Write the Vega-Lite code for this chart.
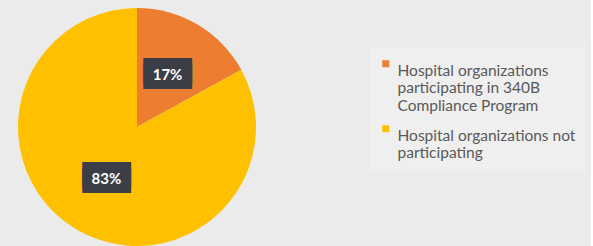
{
  "$schema": "https://vega.github.io/schema/vega-lite/v6.json",
  "width": 274,
  "height": 254,
  "padding": {"left": 0, "top": 0, "right": 6, "bottom": 0},
  "autosize": {"type": "pad"},
  "background": "#ebebeb",
  "config": {"view": {"stroke": null}},
  "data": {"values": [
    {"category": "Hospital organizations participating in 340B Compliance Program", "pct": 17, "label": "17%", "rank": 1, "box": "███"},
    {"category": "Hospital organizations not participating", "pct": 83, "label": "83%", "rank": 2, "box": "███"}
  ]},
  "encoding": {
    "theta": {"field": "pct", "type": "quantitative", "stack": true},
    "order": {"field": "rank", "type": "quantitative"}
  },
  "layer": [
    {
      "mark": {"type": "arc", "outerRadius": 119},
      "encoding": {
        "color": {
          "field": "category", "type": "nominal",
          "sort": ["Hospital organizations participating in 340B Compliance Program", "Hospital organizations not participating"],
          "scale": {"range": ["#ED7D31", "#FFC000"]},
          "legend": {
            "title": null, "orient": "none", "legendX": 369, "legendY": 47,
            "symbolType": "square", "symbolSize": 49, "symbolStrokeWidth": 0,
            "labelFont": "Lato", "labelFontSize": 15.5, "labelColor": "#595959",
            "labelLimit": 300, "labelBaseline": "top", "labelOffset": 4,
            "rowPadding": 6,
            "labelExpr": "datum.label == 'Hospital organizations not participating' ? ['Hospital organizations not', 'participating'] : ['Hospital organizations', 'participating in 340B', 'Compliance Program']",
            "fillColor": "#efefef", "padding": 9, "cornerRadius": 0
          }
        }
      }
    },
    {
      "mark": {"type": "text", "radius": 60, "color": "#3b3e46", "font": "DejaVu Sans", "fontSize": 21, "baseline": "middle", "align": "center", "dy": -3},
      "encoding": {"text": {"field": "box", "type": "nominal"}}
    },
    {
      "mark": {"type": "text", "radius": 60, "color": "#3b3e46", "font": "DejaVu Sans", "fontSize": 21, "baseline": "middle", "align": "center", "dy": 3},
      "encoding": {"text": {"field": "box", "type": "nominal"}}
    },
    {
      "mark": {"type": "text", "radius": 60, "color": "white", "font": "Lato", "fontWeight": "bold", "fontSize": 15, "baseline": "middle", "align": "center"},
      "encoding": {"text": {"field": "label", "type": "nominal"}}
    }
  ]
}
